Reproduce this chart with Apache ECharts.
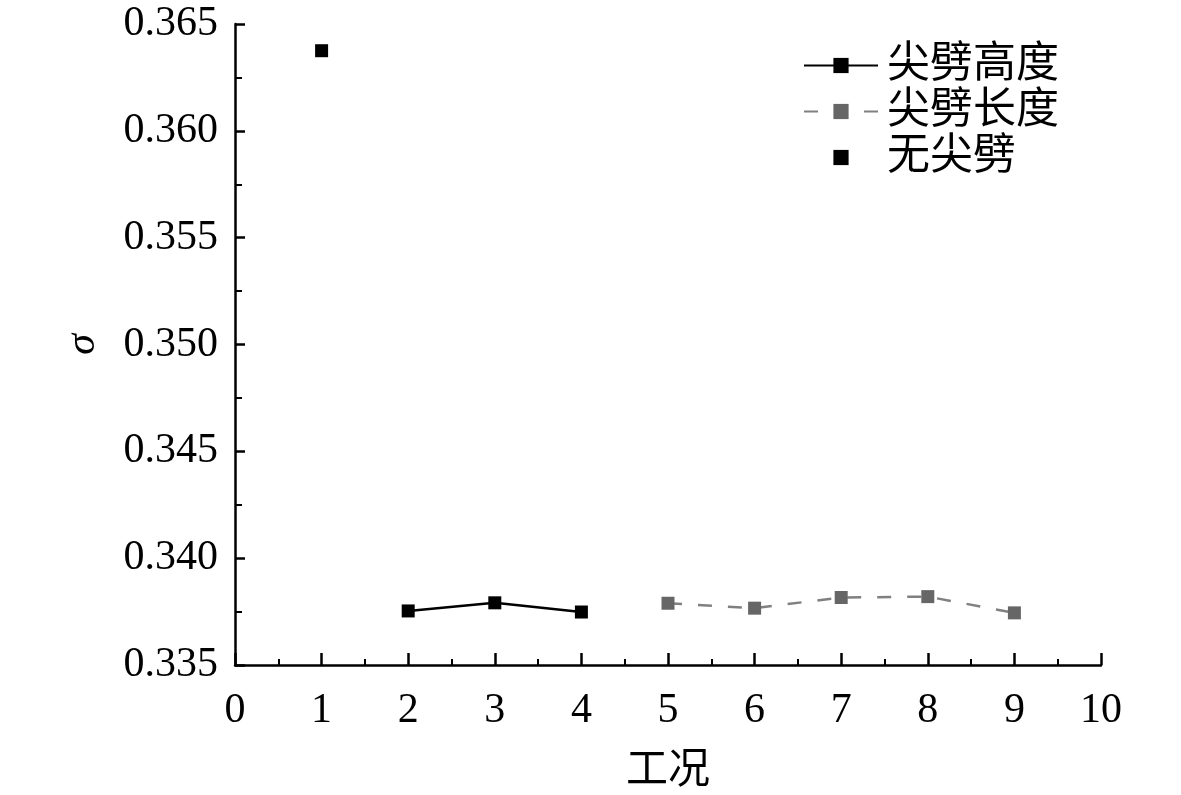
<!DOCTYPE html>
<html><head><meta charset="utf-8">
<script src="https://cdn.jsdelivr.net/npm/echarts@6/dist/echarts.min.js"></script>
<style>html,body{margin:0;padding:0;background:#fff}#c{width:1181px;height:795px}</style>
</head><body><div id="c"></div>
<script>
const xTicks = [0,1,2,3,4,5,6,7,8,9,10];
const heightX = [2,3,4];
const heightY = [0.33753,0.33791,0.33748];
const lengthX = [5,6,7,8,9];
const lengthY = [0.33789,0.33766,0.33816,0.3382,0.33744];
const noneX = [1];
const noneY = [0.36375];
const names = ['尖劈高度','尖劈长度','无尖劈'];

const zip = (a,b)=>a.map((v,i)=>[v,b[i]]);
const serif = '"Liberation Serif","DejaVu Serif",serif';
const cjk = '"Liberation Serif","Noto Sans CJK SC",serif';
const chart = echarts.init(document.getElementById('c'));
chart.setOption({
  animation:false,
  backgroundColor:'#fff',
  grid:{left:235,right:80,top:24,bottom:130,containLabel:false,outerBoundsMode:'none'},
  legend:{
    orient:'vertical',left:798,top:39,itemWidth:74,itemHeight:19,itemGap:3,
    textStyle:{fontFamily:cjk,fontSize:43,color:'#000',padding:[0,0,0,4]},
    data:names
  },
  xAxis:{
    type:'value',min:0,max:10,interval:1,
    name:'工况',nameLocation:'middle',nameGap:86,
    nameTextStyle:{fontFamily:cjk,fontSize:42,color:'#000'},
    axisLine:{lineStyle:{color:'#000',width:2.5}},
    axisTick:{inside:true,length:12,lineStyle:{color:'#000',width:2.5}},
    minorTick:{show:true,splitNumber:2,length:6,lineStyle:{color:'#000',width:2}},
    axisLabel:{margin:25,fontFamily:serif,fontSize:42,color:'#000',formatter:v=>String(v)},
    splitLine:{show:false}
  },
  yAxis:{
    type:'value',min:0.335,max:0.365,interval:0.005,
    name:'σ',nameLocation:'middle',nameGap:131,
    nameTextStyle:{fontFamily:serif,fontStyle:'italic',fontSize:42,color:'#000'},
    axisLine:{show:true,lineStyle:{color:'#000',width:2.5}},
    axisTick:{inside:true,length:10,lineStyle:{color:'#000',width:2.5}},
    minorTick:{show:true,splitNumber:2,length:7,lineStyle:{color:'#000',width:2}},
    axisLabel:{margin:17,fontFamily:serif,fontSize:42,color:'#000',formatter:v=>v.toFixed(3)},
    splitLine:{show:false}
  },
  series:[
    {name:names[0],type:'line',data:zip(heightX,heightY),symbol:'rect',symbolSize:13,
     itemStyle:{color:'#000'},lineStyle:{color:'#000',width:2.5}},
    {name:names[1],type:'line',data:zip(lengthX,lengthY),symbol:'rect',symbolSize:13,
     itemStyle:{color:'#666'},lineStyle:{color:'#808080',width:2.5,type:[14,16]}},
    {name:names[2],type:'line',data:zip(noneX,noneY),symbol:'rect',symbolSize:13,
     itemStyle:{color:'#000'},lineStyle:{opacity:0}}
  ]
});
</script></body></html>
